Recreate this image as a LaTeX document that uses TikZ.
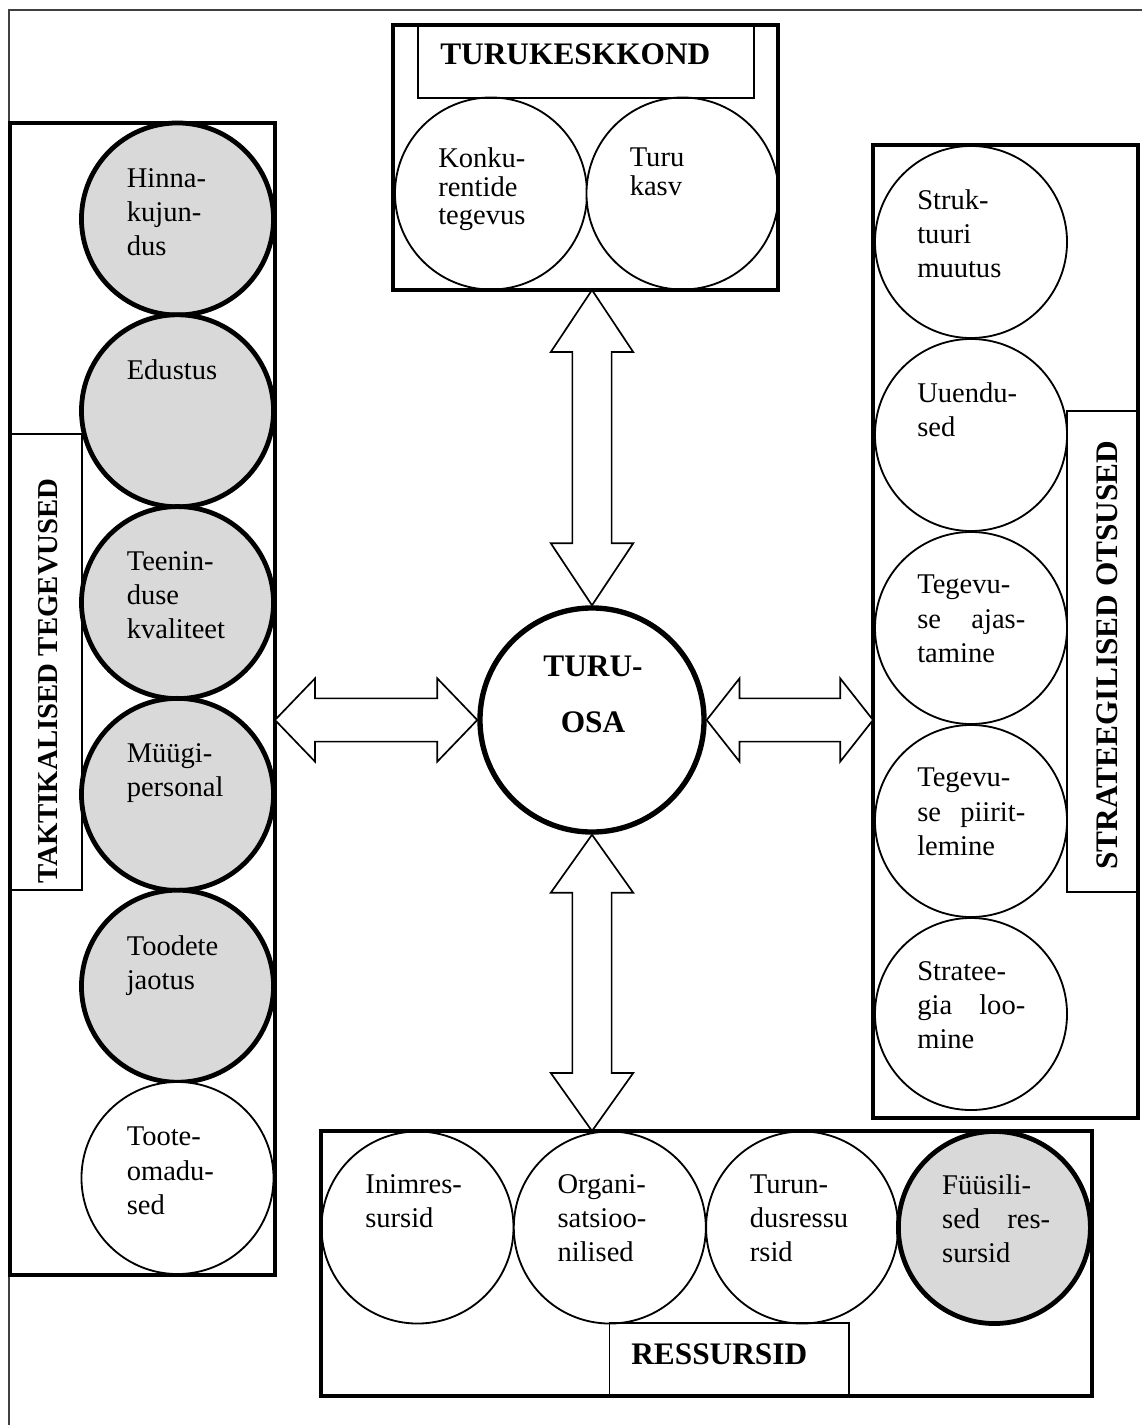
\documentclass[tikz,border=0pt]{standalone}
\usepackage{fontspec}
\setmainfont{Liberation Serif}
\usetikzlibrary{calc}
\definecolor{circgray}{HTML}{D9D9D9}
\tikzset{
  frame/.style={line width=1.3pt, black!75},
  bigbox/.style={line width=2.3pt},
  thinbox/.style={line width=1pt},
  gcirc/.style={circle, draw, line width=3.4pt, fill=circgray, minimum size=4.8cm, inner sep=0pt},
  wcirc/.style={circle, draw, line width=1.3pt, fill=white, minimum size=4.8cm, inner sep=0pt},
  osacirc/.style={circle, draw, line width=3.8pt, fill=white, minimum size=5.6cm, inner sep=0pt},
  ctext/.style={anchor=north west, inner sep=0pt, align=left, font=\fontsize{20.3pt}{24.2pt}\selectfont},
  title/.style={inner sep=0pt, font=\fontsize{22.3pt}{26pt}\selectfont\bfseries},
  blockarr/.style={draw, line width=1.2pt, fill=white, line join=miter},
}
% justified line inside a circle
\newcommand{\jline}[1]{\makebox[76.8pt][s]{#1}}
% double block arrow: tips #1 and #2, head length #3, half head #4, half shaft #5
\newcommand{\dblarrow}[5]{%
  \draw[blockarr]
    (#1) -- ($(#1)!#3!(#2)!#4!90:(#2)$) -- ($(#1)!#3!(#2)!#5!90:(#2)$)
    -- ($(#2)!#3!(#1)!#5!-90:(#1)$) -- ($(#2)!#3!(#1)!#4!-90:(#1)$)
    -- (#2) -- ($(#2)!#3!(#1)!#4!90:(#1)$) -- ($(#2)!#3!(#1)!#5!90:(#1)$)
    -- ($(#1)!#3!(#2)!#5!-90:(#2)$) -- ($(#1)!#3!(#2)!#4!-90:(#2)$) -- cycle;}
\begin{document}
\begin{tikzpicture}[x=0.025cm, y=-0.025cm]
    \useasboundingbox (0,0) rectangle (1142,1425);
    \draw[frame] (9,1425) -- (9,10) -- (1142,10);
    % Turukeskkond
    \foreach \x/\n/\t in {491/konk/{Konku-\\rentide\\tegevus}, 682.5/kasv/{Turu\\kasv}} {
        \node[wcirc] (\n) at (\x,193.5) {};
        \node[ctext, font=\fontsize{20.3pt}{20.3pt}\selectfont] (\n-t) at ([shift={(-53,-46)}]\n.center) {\t};
    }
    \draw[bigbox] (393,25) rectangle (778,290) coordinate (tk-se);
    \draw[thinbox] (418,25) rectangle (754,98);
    \node[title, anchor=base west] (tk-l) at (440,65) {TURUKESKKOND};
    % Taktikalised tegevused
    \foreach \y/\n/\s/\t in {219/hin/gcirc/{Hinna-\\kujun-\\dus}, 410.8/edu/gcirc/{Edustus},
        602.6/tee/gcirc/{Teenin-\\duse\\kvaliteet}, 794.4/myy/gcirc/{Müügi-\\personal},
        986.2/too/gcirc/{Toodete\\jaotus}, 1178/oma/wcirc/{Toote-\\omadu-\\sed}} {
        \node[\s] (\n) at (177.5,\y) {};
        \node[ctext] (\n-t) at ([shift={(-51,-51)}]\n.center) {\t};
    }
    \draw[bigbox] (10,123) rectangle (275,1275) coordinate (tak-se);
    \draw[thinbox] (10,434) rectangle (82,890);
    \node[title, font=\fontsize{20.5pt}{24pt}\selectfont\bfseries, rotate=90, anchor=base] (tak-l) at (57,681) {TAKTIKALISED TEGEVUSED};
    % Strateegilised otsused
    \foreach \y/\n/\t in {242/str/{Struk-\\tuuri\\muutus}, 435/uue/{Uuendu-\\sed},
        628/aja/{Tegevu-\\\jline{se ajas-}\\tamine}, 821/pii/{Tegevu-\\\jline{se piirit-}\\lemine},
        1014/loo/{Stratee-\\\jline{gia loo-}\\mine}} {
        \node[wcirc] (\n) at (971,\y) {};
        \node[ctext] (\n-t) at ([shift={(-54,-53)}]\n.center) {\t};
    }
    \draw[bigbox] (873,145) coordinate (st-nw) rectangle (1138,1118);
    \draw[thinbox] (1067,411) rectangle (1138,892);
    \node[title, rotate=90, anchor=base] (st-l) at (1117,655) {STRATEEGILISED OTSUSED};
    % Ressursid
    \foreach \x/\n/\s/\t in {417.5/ini/wcirc/{Inimres-\\sursid}, 609.8/org/wcirc/{Organi-\\satsioo-\\nilised},
        802.1/tur/wcirc/{Turun-\\dusressu\\rsid}, 994.4/fyy/gcirc/{Füüsili-\\\jline{sed res-}\\sursid}} {
        \node[\s] (\n) at (\x,1227.5) {};
        \node[ctext] (\n-t) at ([shift={(-52.5,-53)}]\n.center) {\t};
    }
    \draw[bigbox] (321,1131) coordinate (rs-nw) rectangle (1092,1396);
    \draw[thinbox] (609.5,1323) rectangle (849,1396);
    \node[title, anchor=base west] (rs-l) at (631,1364) {RESSURSID};
    % Turuosa
    \node[osacirc] (osa) at (592,720) {};
    \node[title, align=center, anchor=north, font=\fontsize{22.3pt}{39.8pt}\selectfont\bfseries] (osa-t) at (593,656) {TURU-\\OSA};
    % nooled
    \coordinate (a1) at (osa.north |- tk-se);
    \coordinate (a2) at (osa.south |- rs-nw);
    \coordinate (a3) at (osa.west -| tak-se);
    \coordinate (a4) at (osa.east -| st-nw);
    \dblarrow{a1}{osa.north}{1.55cm}{1.03cm}{0.49cm}
    \dblarrow{osa.south}{a2}{1.45cm}{1.03cm}{0.49cm}
    \dblarrow{a3}{osa.west}{1cm}{1.04cm}{0.54cm}
    \dblarrow{osa.east}{a4}{0.82cm}{1.04cm}{0.54cm}
\end{tikzpicture}
\end{document}
